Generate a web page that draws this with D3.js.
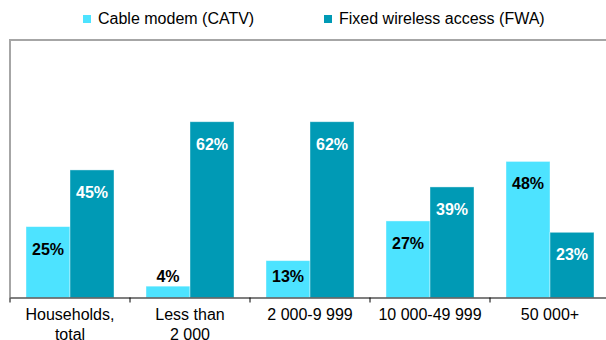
<!DOCTYPE html>
<html>
<head>
<meta charset="utf-8">
<script src="https://cdn.jsdelivr.net/npm/d3@7"></script>
<style>
  html, body { margin: 0; padding: 0; background: #fff; }
  svg { display: block; font-family: "Liberation Sans", Arial, sans-serif; }
</style>
</head>
<body>
<svg id="chart" width="606" height="340"></svg>
<script>
const categories = [["Households,", "total"], ["Less than", "2 000"], ["2 000-9 999"], ["10 000-49 999"], ["50 000+"]];
const seriesNames = ["Cable modem (CATV)", "Fixed wireless access (FWA)"];
const catvValues = [25, 4, 13, 27, 48];
const fwaValues = [45, 62, 62, 39, 23];

const colors = ["#4de3ff", "#009ab5"];
const labelColors = ["#000", "#fff"];

const svg = d3.select("#chart");
const catKeys = categories.map((c, i) => i);
const seriesValues = [catvValues, fwaValues];

const x0 = d3.scaleBand().domain(catKeys).range([10, 610]).paddingInner(0).paddingOuter(0);
const x1 = d3.scaleBand().domain([0, 1]).range([16, 104]);
const y = d3.scaleLinear().domain([0, 100]).range([297.5, 14]);

// plot frame (left and top)
svg.append("path")
  .attr("d", `M10,${y(0)} V40 H610`)
  .attr("fill", "none")
  .attr("stroke", "#a6a6a6")
  .attr("stroke-width", 2);

// bars
const groups = svg.append("g").selectAll("g")
  .data(catKeys).join("g")
  .attr("transform", d => `translate(${x0(d)},0)`);

groups.selectAll("rect")
  .data(ci => [0, 1].map(si => ({ si, v: seriesValues[si][ci] })))
  .join("rect")
  .attr("x", d => x1(d.si))
  .attr("width", x1.bandwidth())
  .attr("y", d => y(d.v))
  .attr("height", d => y(0) - y(d.v))
  .attr("fill", d => colors[d.si])
  .attr("stroke", "rgba(255,255,255,0.5)")
  .attr("stroke-width", 0.8);

groups.selectAll("text.val")
  .data(ci => [0, 1].map(si => ({ si, v: seriesValues[si][ci] })))
  .join("text")
  .attr("class", "val")
  .attr("x", d => x1(d.si) + x1.bandwidth() / 2)
  .attr("y", d => Math.min(y(d.v) + 28, y(0) - 16))
  .attr("text-anchor", "middle")
  .attr("font-size", 16)
  .attr("font-weight", "bold")
  .attr("fill", d => (y(0) - y(d.v) < 20 ? "#000" : labelColors[d.si]))
  .text(d => d.v + "%");

// x axis
const xAxis = d3.axisBottom(x0).tickSize(0).tickFormat("");
const axisG = svg.append("g").attr("transform", `translate(0,${y(0)})`).call(xAxis);
axisG.select(".domain").attr("stroke", "#000").attr("stroke-width", 1.2);
// band boundary ticks
axisG.selectAll("line.bt")
  .data(catKeys.concat([catKeys.length]))
  .join("line")
  .attr("class", "bt")
  .attr("x1", d => x0.range()[0] + d * x0.step())
  .attr("x2", d => x0.range()[0] + d * x0.step())
  .attr("y1", 0).attr("y2", 5)
  .attr("stroke", "#000");

const lab = svg.append("g").selectAll("text")
  .data(catKeys).join("text")
  .attr("x", d => x0(d) + x0.bandwidth() / 2)
  .attr("y", 320)
  .attr("text-anchor", "middle")
  .attr("font-size", 16)
  .attr("fill", "#000");
lab.selectAll("tspan")
  .data(d => categories[d].map((t, i) => ({ t, i, d })))
  .join("tspan")
  .attr("x", d => x0(d.d) + x0.bandwidth() / 2)
  .attr("dy", d => d.i === 0 ? 0 : 20)
  .text(d => d.t);

// legend
const legendX = [83, 324];
const leg = svg.append("g").selectAll("g")
  .data(seriesNames).join("g")
  .attr("transform", (d, i) => `translate(${legendX[i]},0)`);
leg.append("rect")
  .attr("x", 0).attr("y", 15).attr("width", 8).attr("height", 8)
  .attr("fill", (d, i) => colors[i]);
leg.append("text")
  .attr("x", 15).attr("y", 24)
  .attr("font-size", 16)
  .attr("fill", "#000")
  .text(d => d);
</script>
</body>
</html>
